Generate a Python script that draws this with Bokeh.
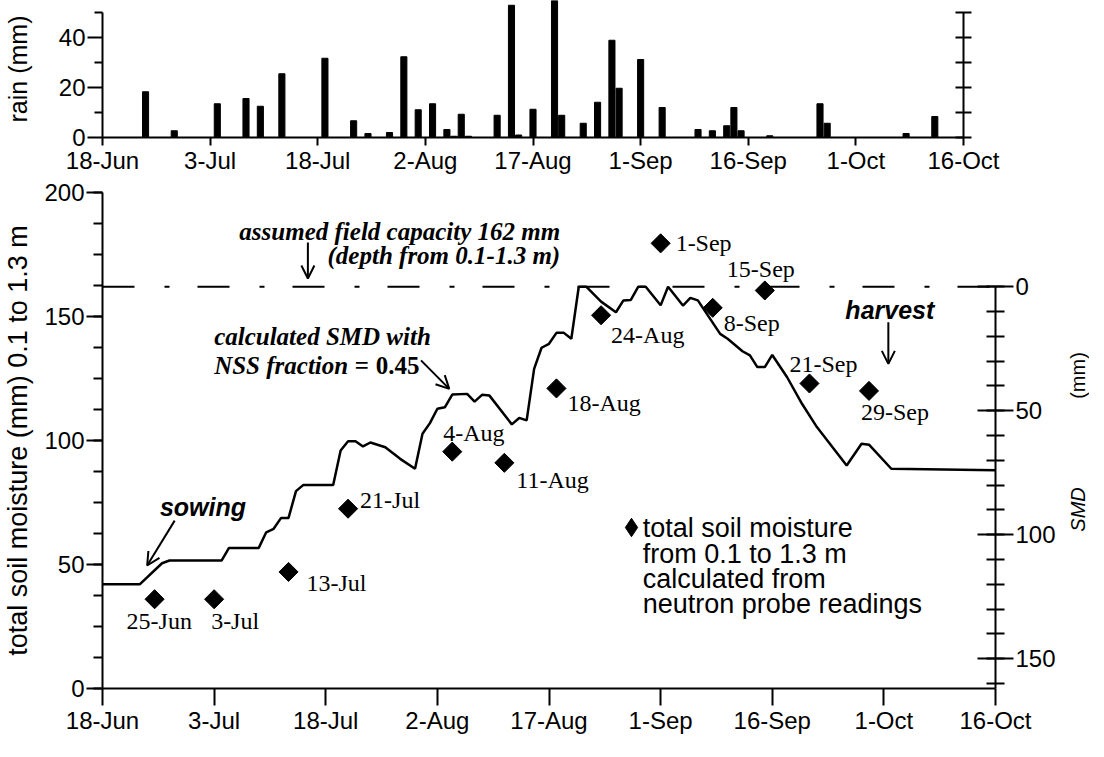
import numpy as np
import pandas as pd
from bokeh.plotting import figure
from bokeh.layouts import column, row
from bokeh.models import (Range1d, LinearAxis, FixedTicker, Span, Arrow, OpenHead,
                          Label, Legend, LegendItem, ColumnDataSource)
from bokeh.core.properties import value
from bokeh.embed import file_html
from bokeh.resources import INLINE

# ---------------- data ----------------
YEAR = "2001"
START = "06-18"
TICK_DAYS = [0, 15, 30, 45, 60, 75, 90, 105, 120]
TICK_LABELS = ["18-Jun", "3-Jul", "18-Jul", "2-Aug", "17-Aug", "1-Sep", "16-Sep", "1-Oct", "16-Oct"]

rain_dates = ["06-24", "06-28", "07-04", "07-08", "07-10", "07-13", "07-19", "07-23", "07-25",
              "07-28", "07-30", "08-01", "08-03", "08-05", "08-06", "08-07", "08-08", "08-12",
              "08-14", "08-15", "08-17", "08-20", "08-21", "08-24", "08-26", "08-28", "08-29",
              "09-01", "09-04", "09-09", "09-11", "09-13", "09-14", "09-15", "09-19", "09-26",
              "09-27", "10-08", "10-12"]
rain_mm = [18.3, 2.7, 13.5, 15.6, 12.5, 25.5, 31.7, 6.7, 1.6,
           2.0, 32.3, 11.1, 13.5, 3.2, 0.5, 9.3, 0.5, 8.9,
           52.9, 1.0, 11.3, 57.0, 8.9, 5.7, 14.1, 38.9, 19.7,
           31.2, 12.0, 3.2, 2.7, 4.7, 12.0, 2.7, 0.7, 13.5,
           5.7, 1.6, 8.4]

model_dates = ["06-18", "06-23", "06-26", "06-27", "07-04", "07-05", "07-09", "07-10", "07-11",
               "07-12", "07-13", "07-14", "07-15", "07-19", "07-20", "07-21", "07-22", "07-23",
               "07-24", "07-26", "07-28", "07-30", "07-31", "08-01", "08-02", "08-03", "08-04",
               "08-06", "08-07", "08-08", "08-09", "08-12", "08-13", "08-14", "08-15", "08-16",
               "08-17", "08-18", "08-19", "08-20", "08-21", "08-22", "08-24", "08-26", "08-27",
               "08-28", "08-29", "08-30", "09-01", "09-02", "09-04", "09-05", "09-06", "09-09",
               "09-10", "09-12", "09-13", "09-14", "09-15", "09-16", "09-18", "09-20", "09-22",
               "09-26", "09-28", "09-29", "10-02", "10-16"]
model_moisture = [42.0, 42.0, 50.5, 51.6, 51.6, 56.7, 56.7, 63.0, 64.4,
                  68.8, 68.8, 79.6, 82.1, 82.1, 96.0, 99.7, 99.7, 97.6,
                  99.2, 97.3, 92.6, 88.6, 102.7, 107.0, 112.8, 113.4, 118.5,
                  118.8, 115.7, 118.4, 118.1, 106.5, 109.1, 108.1, 128.9, 137.4,
                  139.0, 143.4, 143.4, 141.0, 162.0, 162.0, 156.0, 151.7, 156.5,
                  156.7, 162.0, 162.0, 154.5, 162.0, 154.4, 157.5, 156.5, 143.0,
                  141.0, 136.0, 134.3, 129.6, 129.6, 134.5, 125.5, 114.8, 105.4,
                  89.9, 98.7, 98.3, 88.6, 88.0]

probe_dates = ["06-25", "07-03", "07-13", "07-21", "08-04", "08-11", "08-18", "08-24",
               "09-01", "09-08", "09-15", "09-21", "09-29"]
probe_moisture = [36.0, 36.0, 47.0, 72.5, 95.5, 91.0, 121.0, 150.5,
                  179.5, 153.5, 160.5, 123.0, 120.0]

FIELD_CAPACITY = 162
LEGEND_LINES = ["total soil moisture", "from 0.1 to 1.3 m", "calculated from", "neutron probe readings"]

# label layout (pixel offsets from each diamond)
PROBE_LABEL_OFFSETS = [(-28, 22), (-3, 22), (18, 11), (12, -9), (-9, -19), (12, 17), (11, 15),
                       (10, 20), (15, 0), (11, 15), (-38, -21), (-20, -19), (-8, 21)]


def to_day(md):
    d = pd.to_datetime([YEAR + "-" + s for s in md])
    return list((d - pd.Timestamp(YEAR + "-" + START)).days.astype(float))


def day_label(md):
    d = pd.to_datetime(YEAR + "-" + md)
    return f"{d.day}-{d.strftime('%b')}"


rain_day = to_day(rain_dates)
model_day = to_day(model_dates)
probe_day = to_day(probe_dates)

SANS = "Liberation Sans"
SERIF = "Liberation Serif"
TICK_FS = "24px"
labels_map = {d: l for d, l in zip(TICK_DAYS, TICK_LABELS)}


def style_xaxis(ax, tick_out):
    ax.ticker = FixedTicker(ticks=TICK_DAYS)
    ax.major_label_overrides = labels_map
    ax.major_label_text_font = SANS
    ax.major_label_text_font_size = TICK_FS
    ax.major_label_text_color = "black"
    ax.axis_line_width = 2
    ax.major_tick_line_width = 2
    ax.major_tick_out = tick_out
    ax.major_tick_in = 0
    ax.major_label_standoff = 1
    ax.axis_line_color = "black"
    ax.major_tick_line_color = "black"


def style_yaxis(ax):
    ax.major_label_text_font = SANS
    ax.major_label_text_font_size = TICK_FS
    ax.major_label_text_color = "black"
    ax.axis_line_width = 2
    ax.major_tick_line_width = 2
    ax.minor_tick_line_width = 2
    ax.axis_line_color = "black"
    ax.major_tick_line_color = "black"
    ax.minor_tick_line_color = "black"
    ax.axis_label_text_font = SANS
    ax.axis_label_text_font_style = "normal"
    ax.axis_label_text_color = "black"


# ---------------- top: rain ----------------
top = figure(frame_width=861, frame_height=137, min_border_left=101, min_border_right=126,
             min_border_top=0, min_border_bottom=40,
             x_range=Range1d(0, 120), y_range=Range1d(0, 137 / 2.5),
             output_backend="svg", toolbar_location=None)
top.vbar(x=rain_day, top=rain_mm, width=0.85, color="black")
top.grid.visible = False
top.outline_line_color = None
style_xaxis(top.xaxis[0], 8)
ya = top.yaxis[0]
style_yaxis(ya)
ya.ticker = FixedTicker(ticks=[0, 20, 40], minor_ticks=[10, 30, 50])
ya.bounds = (0, 50)
ya.major_tick_out = 15
ya.major_tick_in = 0
ya.minor_tick_out = 8
ya.minor_tick_in = 0
ya.major_label_standoff = 2
ya.axis_label = "rain (mm)"
ya.axis_label_text_font_size = "25px"
ya.axis_label_standoff = 24
ra = LinearAxis(ticker=FixedTicker(ticks=[0, 10, 20, 30, 40, 50]), bounds=(0, 50))
style_yaxis(ra)
ra.major_tick_in = 8
ra.major_tick_out = 8
ra.major_label_overrides = {t: "" for t in [0, 10, 20, 30, 40, 50]}
top.add_layout(ra, "right")

# ---------------- main ----------------
main = figure(frame_width=893, frame_height=496, min_border_left=101, min_border_right=66,
              min_border_top=15, min_border_bottom=50,
              x_range=Range1d(0, 120), y_range=Range1d(0, 200),
              output_backend="svg", toolbar_location=None)
main.grid.visible = False
main.outline_line_color = None
main.extra_y_ranges = {"smd": Range1d(start=FIELD_CAPACITY, end=FIELD_CAPACITY - 200)}

style_xaxis(main.xaxis[0], 17)
ly = main.yaxis[0]
style_yaxis(ly)
ly.ticker = FixedTicker(ticks=[0, 50, 100, 150, 200], minor_ticks=list(np.arange(0, 201, 12.5)))
ly.major_tick_out = 16
ly.major_tick_in = 0
ly.minor_tick_out = 9
ly.minor_tick_in = 0
ly.major_label_standoff = 2
ly.axis_label = "total soil moisture (mm) 0.1 to 1.3 m"
ly.axis_label_text_font_size = "27px"
ly.axis_label_standoff = 8

ry = LinearAxis(y_range_name="smd", ticker=FixedTicker(ticks=[0, 50, 100, 150], minor_ticks=list(range(0, 170, 10))),
                bounds=(0, FIELD_CAPACITY))
style_yaxis(ry)
ry.major_tick_in = 18
ry.major_tick_out = 18
ry.minor_tick_in = 9
ry.minor_tick_out = 9
ry.major_label_standoff = 2
main.add_layout(ry, "right")

main.add_layout(Span(location=FIELD_CAPACITY, dimension="width", line_color="black",
                     line_width=2, line_dash="32 30 5 28"))

main.line(model_day, model_moisture, line_color="black", line_width=2.5)

probe_src = ColumnDataSource(dict(x=probe_day, y=probe_moisture,
                                  lab=[day_label(s) for s in probe_dates],
                                  dx=[o[0] for o in PROBE_LABEL_OFFSETS],
                                  dy=[o[1] for o in PROBE_LABEL_OFFSETS]))
main.scatter("x", "y", source=probe_src, marker="square", size=13.5, angle=np.pi / 4,
             color="black")
main.text("x", "y", text="lab", source=probe_src, x_offset="dx", y_offset="dy",
          text_font=value(SERIF), text_font_size="24px", text_align="left",
          text_baseline="middle", text_color="black")

# legend symbol: a small diamond drawn inside the first probe marker, used as the legend glyph
legend_proxy = main.scatter(probe_day[:1], probe_moisture[:1], marker="diamond", size=10,
                            color="black")


# annotations
def add_label(fig, x, y, txt, font=SERIF, style="bold italic", size="25px", align="left",
              angle=0.0, baseline="middle", line_height=1.2):
    fig.add_layout(Label(x=x, y=y, text=txt, text_font=font, text_font_style=style,
                         text_font_size=size, text_align=align, text_baseline=baseline,
                         text_color="black", angle=angle, text_line_height=line_height))


add_label(main, 61.5, 184.3, "assumed field capacity 162 mm", align="right")
add_label(main, 61.5, 174.6, "(depth from 0.1-1.3 m)", align="right")
add_label(main, 15.0, 141.9, "calculated SMD with")
add_label(main, 15.0, 130.2, "NSS fraction =")
add_label(main, 42.6, 130.2, "0.45", style="bold", align="right")
add_label(main, 13.5, 73.0, "sowing", font=SANS, align="center")
add_label(main, 105.8, 152.8, "harvest", font=SANS, align="center")
add_label(main, 72.6, 70.6, "\n".join(LEGEND_LINES), font=SANS, style="normal", size="27px",
          baseline="top", line_height=0.84)


def add_arrow(x0, y0, x1, y1):
    main.add_layout(Arrow(end=OpenHead(size=13, line_width=2, line_color="black"),
                          x_start=x0, y_start=y0, x_end=x1, y_end=y1,
                          line_width=2, line_color="black"))


add_arrow(27.6, 179.8, 27.6, 165.3)
add_arrow(42.8, 132.3, 46.6, 120.8)
add_arrow(9.7, 67.7, 6.0, 49.6)
add_arrow(105.6, 147.7, 105.6, 130.9)

legend = Legend(items=[LegendItem(label=" ", renderers=[legend_proxy])],
                location=(506, 138), padding=0, margin=0, spacing=0,
                glyph_width=46, glyph_height=46, label_standoff=0,
                label_text_font=SANS, label_text_font_size="10px", label_text_color="black",
                border_line_color=None, background_fill_alpha=0)
main.add_layout(legend, "center")

# ---------------- side strip holding the SMD axis title ----------------
side = figure(frame_width=28, frame_height=496, min_border_left=0, min_border_right=0,
              min_border_top=15, min_border_bottom=50,
              x_range=Range1d(0, 1), y_range=Range1d(0, 200),
              output_backend="svg", toolbar_location=None)
side.axis.visible = False
side.grid.visible = False
side.outline_line_color = None
add_label(side, 0.58, 72.2, "SMD", font=SANS, style="italic", size="20px", align="center",
          angle=np.pi / 2)
add_label(side, 0.58, 126.2, "(mm)", font=SANS, style="normal", size="20px", align="center",
          angle=np.pi / 2)

layout = column(top, row(main, side, spacing=0), spacing=0)
open("out.html", "w").write(file_html(layout, INLINE))
